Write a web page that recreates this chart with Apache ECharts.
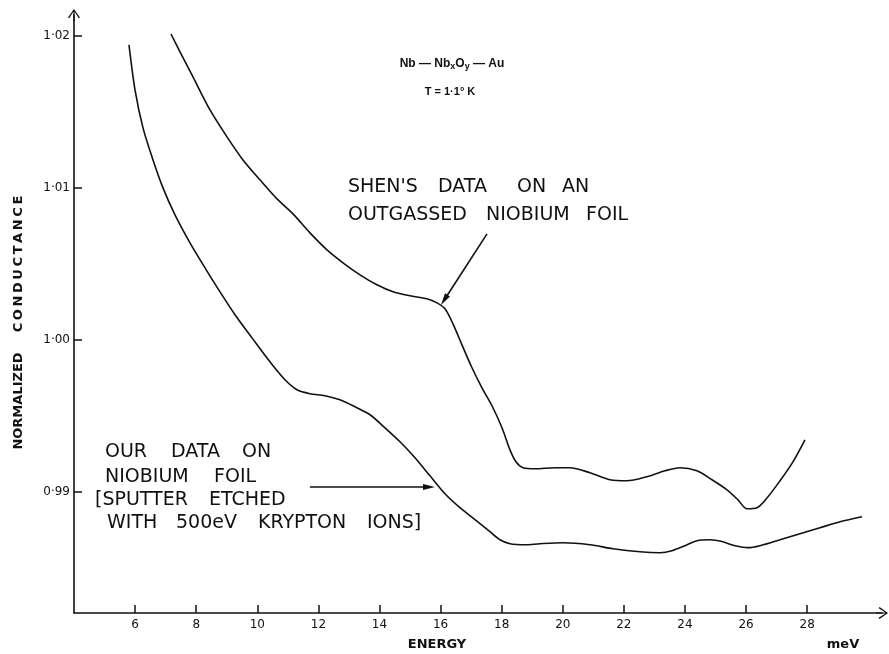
<!DOCTYPE html>
<html>
<head>
<meta charset="utf-8">
<script src="https://cdn.jsdelivr.net/npm/echarts@6/dist/echarts.min.js"></script>
<style>
html, body { margin: 0; padding: 0; background: #fff; }
#chart { width: 889px; height: 654px; }
</style>
</head>
<body>
<div id="chart"></div>
<script>
// our data (sputter etched Nb foil)
var ourEnergy = [5.800, 5.997, 6.259, 6.586, 6.913, 7.306, 7.797, 8.288, 8.779, 9.270, 9.827, 10.416, 10.907, 11.300, 11.725, 12.216, 12.707, 13.198, 13.689, 14.180, 14.671, 15.162, 15.653, 16.144, 16.635, 17.126, 17.617, 17.944, 18.272, 18.763, 19.254, 20.007, 20.890, 21.643, 22.527, 23.182, 23.574, 24.000, 24.393, 24.818, 25.211, 25.637, 26.062, 26.455, 27.110, 27.764, 28.419, 29.074, 29.794];
var ourCond = [1.01939, 1.01643, 1.01393, 1.01182, 1.00998, 1.00820, 1.00636, 1.00472, 1.00314, 1.00163, 1.00011, 0.99853, 0.99735, 0.99669, 0.99643, 0.99630, 0.99603, 0.99557, 0.99505, 0.99419, 0.99327, 0.99222, 0.99103, 0.98985, 0.98893, 0.98814, 0.98735, 0.98682, 0.98656, 0.98649, 0.98656, 0.98662, 0.98649, 0.98623, 0.98603, 0.98597, 0.98610, 0.98643, 0.98676, 0.98682, 0.98670, 0.98643, 0.98630, 0.98643, 0.98682, 0.98722, 0.98761, 0.98801, 0.98834];

// Shen's data (outgassed Nb foil)
var shenEnergy = [7.175, 7.470, 7.895, 8.452, 9.008, 9.532, 10.088, 10.645, 11.169, 11.725, 12.282, 12.805, 13.362, 13.918, 14.442, 14.998, 15.555, 15.882, 16.144, 16.406, 16.700, 17.028, 17.355, 17.683, 18.010, 18.272, 18.468, 18.697, 19.090, 19.745, 20.236, 20.890, 21.545, 22.101, 22.756, 23.345, 23.836, 24.393, 24.884, 25.375, 25.735, 26.029, 26.357, 26.717, 27.110, 27.535, 27.928];
var shenCond = [1.02011, 1.01893, 1.01728, 1.01511, 1.01334, 1.01182, 1.01051, 1.00926, 1.00827, 1.00702, 1.00590, 1.00505, 1.00426, 1.00360, 1.00314, 1.00288, 1.00268, 1.00241, 1.00202, 1.00103, 0.99965, 0.99814, 0.99682, 0.99564, 0.99419, 0.99274, 0.99195, 0.99156, 0.99149, 0.99156, 0.99156, 0.99123, 0.99077, 0.99070, 0.99097, 0.99136, 0.99156, 0.99136, 0.99077, 0.99011, 0.98945, 0.98886, 0.98893, 0.98965, 0.99070, 0.99195, 0.99340];

var xTicks = [6, 8, 10, 12, 14, 16, 18, 20, 22, 24, 26, 28];
var yTicks = [0.99, 1.00, 1.01, 1.02];

// annotation words: text, left x, centre y
var shenNote = [
    ["SHEN'S", 348, 187], ['DATA', 438, 187], ['ON', 517, 187], ['AN', 562, 187],
    ['OUTGASSED', 348, 215], ['NIOBIUM', 486, 215], ['FOIL', 586, 215]
];
var ourNote = [
    ['OUR', 105, 452], ['DATA', 171, 452], ['ON', 242, 452],
    ['NIOBIUM', 105, 477], ['FOIL', 214, 477],
    ['[SPUTTER', 95, 500], ['ETCHED', 209, 500],
    ['WITH', 107, 523], ['500eV', 176, 523], ['KRYPTON', 258, 523], ['IONS]', 367, 523]
];

function zip(xs, ys) {
    var out = [];
    for (var i = 0; i < xs.length; i++) {
        out.push([xs[i], ys[i]]);
    }
    return out;
}

var arrowPath = 'path://M5,0 L10,7 L9,7.8 L5.5,2.2 L5.5,10 L4.5,10 L4.5,2.2 L1,7.8 L0,7 Z';
var ink = '#111';
var noteFont = '19px "DejaVu Sans"';
var boldSmall = 'bold 13px "DejaVu Sans"';

var graphics = [
    {type: 'text', x: 19, y: 401, rotation: Math.PI / 2,
        style: {text: 'NORMALIZED', fill: ink, font: boldSmall, align: 'center', verticalAlign: 'middle'}},
    {type: 'text', x: 19, y: 264, rotation: Math.PI / 2,
        style: {text: 'C\u2009O\u2009N\u2009D\u2009U\u2009C\u2009T\u2009A\u2009N\u2009C\u2009E', fill: ink, font: boldSmall, align: 'center', verticalAlign: 'middle'}},
    {type: 'text', x: 437, y: 645,
        style: {text: 'ENERGY', fill: ink, font: boldSmall, align: 'center', verticalAlign: 'middle'}},
    {type: 'text', x: 843, y: 645,
        style: {text: 'meV', fill: ink, font: boldSmall, align: 'center', verticalAlign: 'middle'}},
    {type: 'text', x: 452, y: 64,
        style: {
            text: 'Nb — Nb{s|x}O{s|y} — Au', fill: ink, font: 'bold 12px "Liberation Sans"', align: 'center', verticalAlign: 'middle',
            rich: {s: {font: 'bold 9px "Liberation Sans"', fill: ink, padding: [6, 0, 0, 0]}}
        }},
    {type: 'text', x: 450, y: 92,
        style: {text: 'T = 1·1° K', fill: ink, font: 'bold 11px "Liberation Sans"', align: 'center', verticalAlign: 'middle'}}
];
shenNote.concat(ourNote).forEach(function (w) {
    graphics.push({type: 'text', x: w[1], y: w[2],
        style: {text: w[0], fill: ink, font: noteFont, verticalAlign: 'middle'}});
});

var chart = echarts.init(document.getElementById('chart'));
chart.setOption({
    animation: false,
    backgroundColor: '#fff',
    grid: {left: 74, right: 7, top: 15, bottom: 41},
    xAxis: {
        type: 'value',
        min: 4,
        max: 30.45,
        axisLine: {
            lineStyle: {color: ink, width: 1.6},
            symbol: ['none', arrowPath],
            symbolSize: [12, 12]
        },
        axisTick: {show: true, inside: true, length: 8, customValues: xTicks, lineStyle: {color: ink, width: 1.5}},
        axisLabel: {customValues: xTicks, color: ink, fontFamily: 'DejaVu Sans', fontSize: 12, margin: 6},
        splitLine: {show: false}
    },
    yAxis: {
        type: 'value',
        min: 0.982,
        max: 1.02136,
        axisLine: {
            show: true,
            lineStyle: {color: ink, width: 1.6},
            symbol: ['none', arrowPath],
            symbolSize: [12, 12]
        },
        axisTick: {show: true, inside: true, length: 8, customValues: yTicks, lineStyle: {color: ink, width: 1.5}},
        axisLabel: {
            customValues: yTicks, color: ink, fontFamily: 'DejaVu Sans', fontSize: 12, margin: 4,
            formatter: function (v) {
                return v.toFixed(2).replace('.', '·');
            }
        },
        splitLine: {show: false}
    },
    series: [
        {
            name: 'Our data',
            type: 'line',
            data: zip(ourEnergy, ourCond),
            smooth: 0.3,
            symbol: 'none',
            lineStyle: {color: ink, width: 1.6},
            markLine: {
                silent: true,
                symbol: ['none', 'triangle'],
                symbolSize: [6, 12],
                lineStyle: {color: ink, width: 1.6, type: 'solid'},
                label: {show: false},
                data: [[{coord: [11.72, 0.9903]}, {coord: [15.62, 0.9903]}]]
            }
        },
        {
            name: "Shen's data",
            type: 'line',
            data: zip(shenEnergy, shenCond),
            smooth: 0.3,
            symbol: 'none',
            lineStyle: {color: ink, width: 1.6},
            markLine: {
                silent: true,
                symbol: ['none', 'triangle'],
                symbolSize: [6, 12],
                lineStyle: {color: ink, width: 1.6, type: 'solid'},
                label: {show: false},
                data: [[{coord: [17.52, 1.00695]}, {coord: [16.12, 1.0026]}]]
            }
        }
    ],
    graphic: graphics
});
</script>
</body>
</html>
